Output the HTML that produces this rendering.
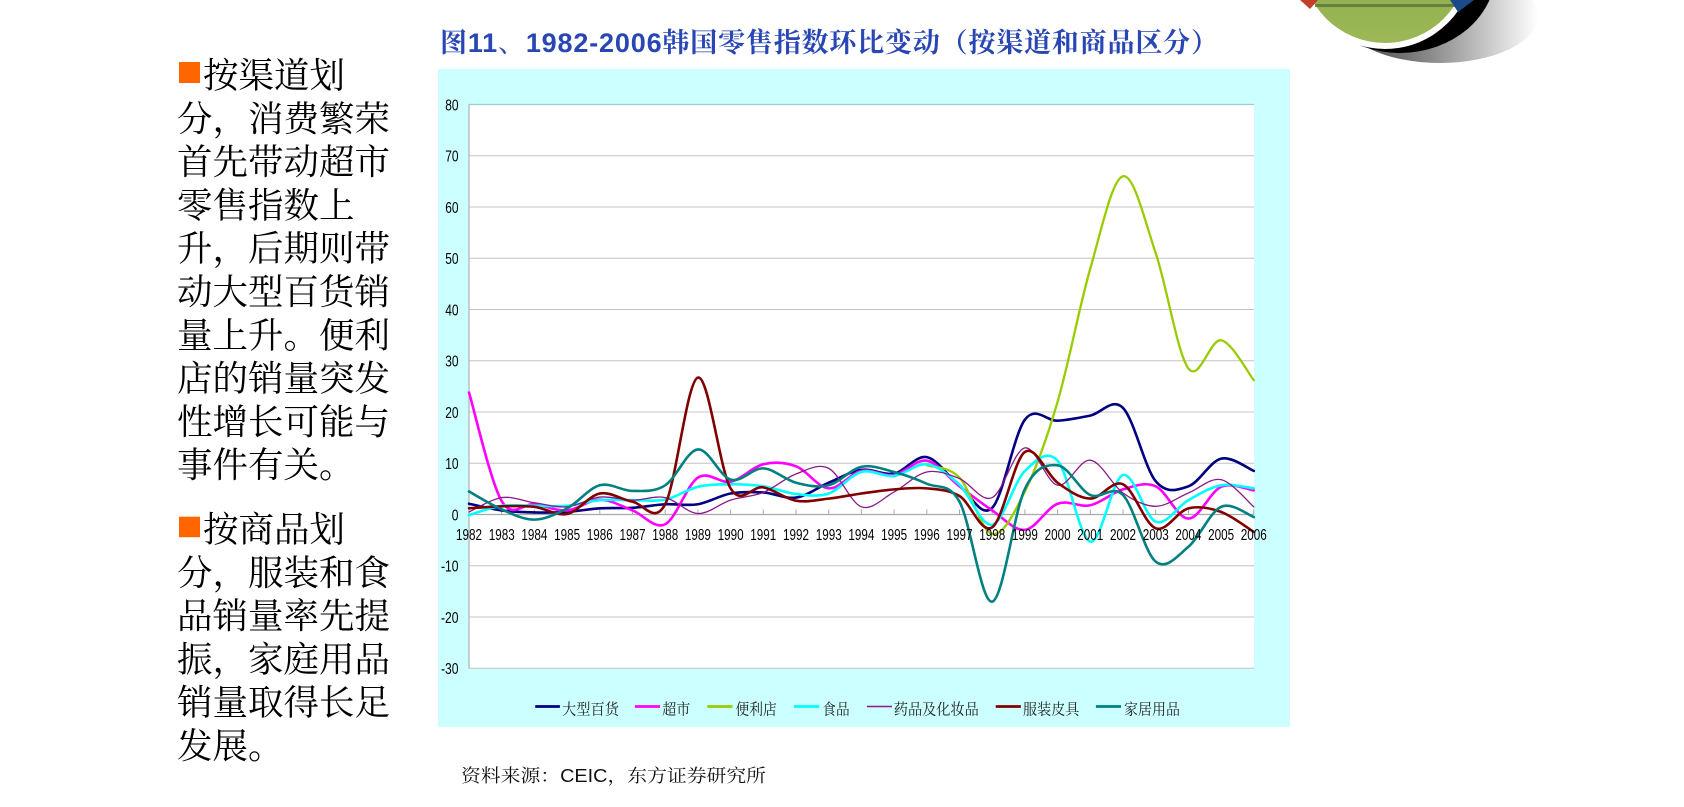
<!DOCTYPE html>
<html><head><meta charset="utf-8"><style>
html,body{margin:0;padding:0;background:#fff;}
body{width:1684px;height:807px;overflow:hidden;position:relative;}
svg{position:absolute;left:0;top:0;}
</style></head><body>
<svg width="1684" height="807" viewBox="0 0 1684 807" xmlns="http://www.w3.org/2000/svg">
<defs>
<linearGradient id="shd" x1="0" y1="0" x2="1" y2="0">
<stop offset="0" stop-color="#3a3a3a"/><stop offset="0.45" stop-color="#8a8a8a"/><stop offset="1" stop-color="#ffffff"/>
</linearGradient>
<linearGradient id="grn" x1="0" y1="0" x2="0" y2="1">
<stop offset="0" stop-color="#6f8a3a"/><stop offset="0.3" stop-color="#88a84a"/><stop offset="1" stop-color="#9cb856"/>
</linearGradient>
</defs>

<!-- logo -->
<ellipse cx="1440" cy="16" rx="98" ry="47" fill="url(#shd)"/>
<ellipse cx="1400" cy="-30" rx="96" ry="83" fill="#000"/>
<circle cx="1385" cy="-40" r="89" fill="#fff"/>
<circle cx="1385" cy="-40" r="83" fill="url(#grn)"/>
<rect x="1315" y="4" width="140" height="3" fill="#4a5a30" opacity="0.6"/>
<polygon points="1300,0 1318,0 1310,9" fill="#c0402a"/>
<polygon points="1450,0 1474,0 1458,12" fill="#1a4a8a"/>

<!-- title -->
<text x="440" y="52" textLength="778" lengthAdjust="spacing" font-size="27" fill="#2846b4" font-family="'Liberation Serif','Noto Serif CJK SC',serif"><tspan font-weight="bold">图</tspan><tspan font-family="'Liberation Sans',sans-serif" font-weight="bold">11</tspan><tspan>、</tspan><tspan font-family="'Liberation Sans',sans-serif" font-weight="bold">1982-2006</tspan><tspan font-weight="bold">韩国零售指数环比变动（按渠道和商品区分）</tspan></text>

<!-- left text -->
<g font-family="'Liberation Serif','Noto Serif CJK SC',serif" font-size="35.5" fill="#000">
<rect x="179" y="62" width="21" height="21" fill="#ff6600"/>
<text x="203" y="87.5">按渠道划</text>
<text x="177" y="130.8">分，消费繁荣</text>
<text x="177" y="174.1">首先带动超市</text>
<text x="177" y="217.4">零售指数上</text>
<text x="177" y="260.7">升，后期则带</text>
<text x="177" y="304">动大型百货销</text>
<text x="177" y="347.3">量上升。便利</text>
<text x="177" y="390.6">店的销量突发</text>
<text x="177" y="433.9">性增长可能与</text>
<text x="177" y="477.2">事件有关。</text>
<rect x="179" y="516.7" width="21" height="20.5" fill="#ff6600"/>
<text x="203" y="541.5">按商品划</text>
<text x="177" y="584.8">分，服装和食</text>
<text x="177" y="628.1">品销量率先提</text>
<text x="177" y="671.4">振，家庭用品</text>
<text x="177" y="714.7">销量取得长足</text>
<text x="177" y="758">发展。</text>
</g>

<!-- chart background -->
<rect x="438" y="69" width="852" height="658" fill="#ccffff"/>
<rect x="469" y="104.5" width="785" height="563.75" fill="#ffffff"/>

<!-- gridlines -->
<g stroke="#c4c4c4" stroke-width="1">
<line x1="469" x2="1254" y1="155.75" y2="155.75"/>
<line x1="469" x2="1254" y1="207" y2="207"/>
<line x1="469" x2="1254" y1="258.25" y2="258.25"/>
<line x1="469" x2="1254" y1="309.5" y2="309.5"/>
<line x1="469" x2="1254" y1="360.75" y2="360.75"/>
<line x1="469" x2="1254" y1="412" y2="412"/>
<line x1="469" x2="1254" y1="463.25" y2="463.25"/>
<line x1="469" x2="1254" y1="565.75" y2="565.75"/>
<line x1="469" x2="1254" y1="617" y2="617"/>
<line x1="469" x2="1254" y1="668.25" y2="668.25"/>
</g>
<line x1="469" x2="1254" y1="104.5" y2="104.5" stroke="#9ccccc" stroke-width="1.2"/>
<line x1="469" x2="469" y1="104.5" y2="668.5" stroke="#b0b0b0" stroke-width="1.2"/>
<line x1="469" x2="1254" y1="514.5" y2="514.5" stroke="#a8a8a8" stroke-width="1.2"/>
<g stroke="#a8a8a8" stroke-width="1">
<line x1="501.7" x2="501.7" y1="509.5" y2="514.5"/><line x1="534.4" x2="534.4" y1="509.5" y2="514.5"/>
<line x1="567.1" x2="567.1" y1="509.5" y2="514.5"/><line x1="599.8" x2="599.8" y1="509.5" y2="514.5"/>
<line x1="632.5" x2="632.5" y1="509.5" y2="514.5"/><line x1="665.2" x2="665.2" y1="509.5" y2="514.5"/>
<line x1="697.9" x2="697.9" y1="509.5" y2="514.5"/><line x1="730.6" x2="730.6" y1="509.5" y2="514.5"/>
<line x1="763.3" x2="763.3" y1="509.5" y2="514.5"/><line x1="796" x2="796" y1="509.5" y2="514.5"/>
<line x1="828.7" x2="828.7" y1="509.5" y2="514.5"/><line x1="861.4" x2="861.4" y1="509.5" y2="514.5"/>
<line x1="894.1" x2="894.1" y1="509.5" y2="514.5"/><line x1="926.8" x2="926.8" y1="509.5" y2="514.5"/>
<line x1="959.5" x2="959.5" y1="509.5" y2="514.5"/><line x1="992.2" x2="992.2" y1="509.5" y2="514.5"/>
<line x1="1024.9" x2="1024.9" y1="509.5" y2="514.5"/><line x1="1057.6" x2="1057.6" y1="509.5" y2="514.5"/>
<line x1="1090.3" x2="1090.3" y1="509.5" y2="514.5"/><line x1="1123" x2="1123" y1="509.5" y2="514.5"/>
<line x1="1155.7" x2="1155.7" y1="509.5" y2="514.5"/><line x1="1188.4" x2="1188.4" y1="509.5" y2="514.5"/>
<line x1="1221.1" x2="1221.1" y1="509.5" y2="514.5"/><line x1="1253.8" x2="1253.8" y1="509.5" y2="514.5"/>
</g>

<!-- y labels -->
<g font-family="'Liberation Sans',sans-serif" font-size="16" fill="#000" text-anchor="end">
<text x="458.5" y="110.3" textLength="13.3" lengthAdjust="spacingAndGlyphs">80</text>
<text x="458.5" y="161.55" textLength="13.3" lengthAdjust="spacingAndGlyphs">70</text>
<text x="458.5" y="212.8" textLength="13.3" lengthAdjust="spacingAndGlyphs">60</text>
<text x="458.5" y="264.05" textLength="13.3" lengthAdjust="spacingAndGlyphs">50</text>
<text x="458.5" y="315.3" textLength="13.3" lengthAdjust="spacingAndGlyphs">40</text>
<text x="458.5" y="366.55" textLength="13.3" lengthAdjust="spacingAndGlyphs">30</text>
<text x="458.5" y="417.8" textLength="13.3" lengthAdjust="spacingAndGlyphs">20</text>
<text x="458.5" y="469.05" textLength="13.3" lengthAdjust="spacingAndGlyphs">10</text>
<text x="458.5" y="520.3" textLength="6.7" lengthAdjust="spacingAndGlyphs">0</text>
<text x="458.5" y="571.55" textLength="17.5" lengthAdjust="spacingAndGlyphs">-10</text>
<text x="458.5" y="622.8" textLength="17.5" lengthAdjust="spacingAndGlyphs">-20</text>
<text x="458.5" y="674.05" textLength="17.5" lengthAdjust="spacingAndGlyphs">-30</text>
</g>

<!-- series -->
<g fill="none" stroke-linejoin="round" stroke-linecap="round">
<path id="s0" stroke="#000080" stroke-width="2.6"/>
<path id="s1" stroke="#ff00ff" stroke-width="2.6"/>
<path id="s2" stroke="#99cc00" stroke-width="2.3"/>
<path id="s3" stroke="#00ffff" stroke-width="2.6"/>
<path id="s4" stroke="#8a1a8a" stroke-width="1.3"/>
<path id="s5" stroke="#800000" stroke-width="2.6"/>
<path id="s6" stroke="#008080" stroke-width="2.6"/>
</g>

<!-- x labels -->
<g font-family="'Liberation Sans',sans-serif" font-size="16" fill="#000" text-anchor="middle">
<text x="469" y="540" textLength="26" lengthAdjust="spacingAndGlyphs">1982</text>
<text x="501.7" y="540" textLength="26" lengthAdjust="spacingAndGlyphs">1983</text>
<text x="534.4" y="540" textLength="26" lengthAdjust="spacingAndGlyphs">1984</text>
<text x="567.1" y="540" textLength="26" lengthAdjust="spacingAndGlyphs">1985</text>
<text x="599.8" y="540" textLength="26" lengthAdjust="spacingAndGlyphs">1986</text>
<text x="632.5" y="540" textLength="26" lengthAdjust="spacingAndGlyphs">1987</text>
<text x="665.2" y="540" textLength="26" lengthAdjust="spacingAndGlyphs">1988</text>
<text x="697.9" y="540" textLength="26" lengthAdjust="spacingAndGlyphs">1989</text>
<text x="730.6" y="540" textLength="26" lengthAdjust="spacingAndGlyphs">1990</text>
<text x="763.3" y="540" textLength="26" lengthAdjust="spacingAndGlyphs">1991</text>
<text x="796" y="540" textLength="26" lengthAdjust="spacingAndGlyphs">1992</text>
<text x="828.7" y="540" textLength="26" lengthAdjust="spacingAndGlyphs">1993</text>
<text x="861.4" y="540" textLength="26" lengthAdjust="spacingAndGlyphs">1994</text>
<text x="894.1" y="540" textLength="26" lengthAdjust="spacingAndGlyphs">1995</text>
<text x="926.8" y="540" textLength="26" lengthAdjust="spacingAndGlyphs">1996</text>
<text x="959.5" y="540" textLength="26" lengthAdjust="spacingAndGlyphs">1997</text>
<text x="992.2" y="540" textLength="26" lengthAdjust="spacingAndGlyphs">1998</text>
<text x="1024.9" y="540" textLength="26" lengthAdjust="spacingAndGlyphs">1999</text>
<text x="1057.6" y="540" textLength="26" lengthAdjust="spacingAndGlyphs">2000</text>
<text x="1090.3" y="540" textLength="26" lengthAdjust="spacingAndGlyphs">2001</text>
<text x="1123" y="540" textLength="26" lengthAdjust="spacingAndGlyphs">2002</text>
<text x="1155.7" y="540" textLength="26" lengthAdjust="spacingAndGlyphs">2003</text>
<text x="1188.4" y="540" textLength="26" lengthAdjust="spacingAndGlyphs">2004</text>
<text x="1221.1" y="540" textLength="26" lengthAdjust="spacingAndGlyphs">2005</text>
<text x="1253.8" y="540" textLength="26" lengthAdjust="spacingAndGlyphs">2006</text>
</g>

<!-- legend -->
<g stroke-width="2.8">
<line x1="535.2" x2="559.9" y1="706.5" y2="706.5" stroke="#000080"/>
<line x1="634.9" x2="660" y1="706.5" y2="706.5" stroke="#ff00ff"/>
<line x1="707.3" x2="732.5" y1="706.5" y2="706.5" stroke="#99cc00"/>
<line x1="794" x2="819.2" y1="706.5" y2="706.5" stroke="#00ffff"/>
<line x1="866.9" x2="892" y1="706.5" y2="706.5" stroke="#8a1a8a" stroke-width="1.4"/>
<line x1="995.7" x2="1020.9" y1="706.5" y2="706.5" stroke="#800000"/>
<line x1="1095.9" x2="1121" y1="706.5" y2="706.5" stroke="#008080"/>
</g>
<g font-family="'Liberation Serif','Noto Serif CJK SC',serif" font-size="15.5" fill="#222">
<text x="562" y="714.5" textLength="57" lengthAdjust="spacingAndGlyphs">大型百货</text>
<text x="662.2" y="714.5" textLength="28.2" lengthAdjust="spacingAndGlyphs">超市</text>
<text x="735.5" y="714.5" textLength="41.2" lengthAdjust="spacingAndGlyphs">便利店</text>
<text x="822.3" y="714.5" textLength="27.3" lengthAdjust="spacingAndGlyphs">食品</text>
<text x="893.8" y="714.5" textLength="85" lengthAdjust="spacingAndGlyphs">药品及化妆品</text>
<text x="1023" y="714.5" textLength="56.4" lengthAdjust="spacingAndGlyphs">服装皮具</text>
<text x="1124" y="714.5" textLength="56" lengthAdjust="spacingAndGlyphs">家居用品</text>
</g>

<!-- source -->
<text x="461" y="782" textLength="305" lengthAdjust="spacingAndGlyphs" font-size="18" fill="#111" font-family="'Liberation Sans','Noto Serif CJK SC',serif">资料来源：CEIC，东方证券研究所</text>
</svg>
<script>
(function(){
var X0=469,DX=32.7,Y0=514.5,K=5.125;
function build(vals,start){
  var p=vals.map(function(v,i){return [X0+(start+i)*DX, Y0-v*K];});
  var d='M'+p[0][0].toFixed(2)+' '+p[0][1].toFixed(2);
  for(var i=0;i<p.length-1;i++){
    var a=p[i-1]||p[i],b=p[i],c=p[i+1],e=p[i+2]||p[i+1];
    var c1x=b[0]+(c[0]-a[0])/6,c1y=b[1]+(c[1]-a[1])/6;
    var c2x=c[0]-(e[0]-b[0])/6,c2y=c[1]-(e[1]-b[1])/6;
    d+=' C'+c1x.toFixed(2)+' '+c1y.toFixed(2)+' '+c2x.toFixed(2)+' '+c2y.toFixed(2)+' '+c[0].toFixed(2)+' '+c[1].toFixed(2);
  }
  return d;
}
var S=[
 [0,[2.1,0.8,0.4,0.5,1.2,1.3,2.0,2.0,4.1,4.3,3.3,6.2,8.7,8.0,11.2,5.6,1.3,18.5,18.3,19.3,20.8,6.5,5.5,10.9,8.5]],
 [0,[23.8,2.6,2.0,0.8,2.9,0.8,-1.9,7.2,6.4,9.8,9.4,5.1,8.5,7.7,10.5,5.5,0.8,-3.0,2.1,1.8,4.9,5.5,-0.8,5.4,4.7]],
 [14,[9.6,7.2,-3.8,4.5,22,48,66,51,28.5,34,26.2]],
 [0,[-0.1,1.7,1.7,1.7,2.8,2.8,2.9,5.4,5.9,5.5,4.0,4.1,8.3,7.5,9.8,5.8,-2.0,8.5,10.5,-5.3,7.7,-1.4,2.8,5.7,5.1]],
 [0,[0.5,3.3,2.3,1.5,3.4,2.8,3.3,0.2,2.8,4.3,7.9,9.0,1.5,4.4,8.3,7.0,3.3,13.0,5.7,10.6,4.2,1.6,4.2,6.8,1.5]],
 [0,[1.2,1.6,1.5,0.1,4.1,2.5,2.0,26.7,5.1,5.3,2.7,3.1,4.1,4.9,5.1,3.6,-2.5,12.2,6.2,3.1,5.9,-2.7,1.2,0.5,-3.4]],
 [0,[4.5,1.0,-1.0,1.2,5.7,4.6,5.7,12.7,6.8,9.0,6.2,5.7,9.3,8.3,6.0,2.5,-17.0,5.0,9.6,3.8,3.8,-9.2,-6.3,1.5,-0.5]]
];
for(var k=0;k<S.length;k++){
  document.getElementById('s'+k).setAttribute('d',build(S[k][1],S[k][0]));
}
})();
</script>
</body></html>
